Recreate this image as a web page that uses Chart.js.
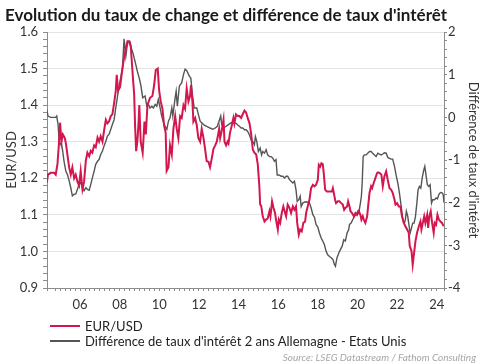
<!DOCTYPE html>
<html>
<head>
<meta charset="utf-8">
<script src="https://cdn.jsdelivr.net/npm/chart.js"></script>
<style>
  body { margin: 0; background: #fff; }
  #wrap { position: relative; width: 485px; height: 364px; font-family: Lato, sans-serif; }
  #title { position: absolute; left: 5px; top: 5px; line-height: 20px; font-size: 17px; font-weight: bold; color: #1a1a1a; white-space: nowrap; }
  .leg { position: absolute; left: 50px; height: 16px; line-height: 16px; font-size: 13px; color: #222; display: flex; align-items: center; white-space: nowrap; }
  .leg .sw { display: inline-block; width: 30px; height: 2px; margin-right: 5px; }
  #source { position: absolute; right: 9px; top: 351px; font-size: 10px; font-style: italic; color: #a6a6a6; white-space: nowrap; }
</style>
</head>
<body>
<div id="wrap">
  <canvas id="chart" width="485" height="364"></canvas>
  <div id="title">Evolution du taux de change et différence de taux d'intérêt</div>
  <div class="leg" style="top:318px"><span class="sw" style="background:#d4164f"></span>EUR/USD</div>
  <div class="leg" style="top:333px"><span class="sw" style="background:#555"></span>Différence de taux d'intérêt 2 ans Allemagne - Etats Unis</div>
  <div id="source">Source: LSEG Datastream / Fathom Consulting</div>
</div>
<script>
// EUR/USD (left axis)
const eurYears = [
  2004.32, 2004.38, 2004.52, 2004.69, 2004.77, 2004.86, 2004.94, 2004.99, 2005.06, 2005.13,
  2005.23, 2005.29, 2005.36, 2005.45, 2005.53, 2005.61, 2005.70, 2005.78, 2005.87, 2005.95,
  2006.03, 2006.12, 2006.20, 2006.29, 2006.37, 2006.46, 2006.54, 2006.62, 2006.71, 2006.79,
  2006.88, 2006.96, 2007.04, 2007.13, 2007.21, 2007.30, 2007.38, 2007.46, 2007.55, 2007.63,
  2007.72, 2007.80, 2007.85, 2007.92, 2008.02, 2008.09, 2008.19, 2008.31, 2008.39, 2008.47,
  2008.56, 2008.61, 2008.68, 2008.73, 2008.78, 2008.83, 2008.89, 2008.95, 2008.99, 2009.06,
  2009.16, 2009.25, 2009.32, 2009.40, 2009.53, 2009.65, 2009.74, 2009.82, 2009.92, 2009.99,
  2010.07, 2010.16, 2010.24, 2010.32, 2010.37, 2010.46, 2010.54, 2010.63, 2010.71, 2010.80,
  2010.88, 2010.96, 2011.05, 2011.13, 2011.22, 2011.30, 2011.38, 2011.47, 2011.55, 2011.60,
  2011.67, 2011.72, 2011.81, 2011.89, 2011.97, 2012.06, 2012.14, 2012.23, 2012.31, 2012.39,
  2012.48, 2012.56, 2012.65, 2012.73, 2012.82, 2012.90, 2013.02, 2013.07, 2013.15, 2013.24,
  2013.29, 2013.37, 2013.44, 2013.49, 2013.57, 2013.66, 2013.74, 2013.79, 2013.87, 2013.96,
  2014.04, 2014.13, 2014.21, 2014.30, 2014.38, 2014.46, 2014.55, 2014.63, 2014.72, 2014.80,
  2014.89, 2014.97, 2015.05, 2015.09, 2015.14, 2015.22, 2015.31, 2015.39, 2015.47, 2015.56,
  2015.61, 2015.69, 2015.76, 2015.84, 2015.89, 2015.98, 2016.03, 2016.10, 2016.18, 2016.26,
  2016.35, 2016.40, 2016.48, 2016.57, 2016.65, 2016.74, 2016.82, 2016.90, 2016.96, 2017.04,
  2017.11, 2017.19, 2017.27, 2017.36, 2017.41, 2017.49, 2017.58, 2017.66, 2017.75, 2017.83,
  2017.91, 2018.00, 2018.05, 2018.12, 2018.18, 2018.25, 2018.30, 2018.37, 2018.45, 2018.55,
  2018.62, 2018.71, 2018.76, 2018.84, 2018.89, 2018.92, 2019.01, 2019.09, 2019.18, 2019.26,
  2019.33, 2019.39, 2019.48, 2019.53, 2019.60, 2019.65, 2019.73, 2019.82, 2019.90, 2019.98,
  2020.07, 2020.15, 2020.20, 2020.27, 2020.32, 2020.40, 2020.49, 2020.54, 2020.61, 2020.69,
  2020.74, 2020.82, 2020.91, 2020.99, 2021.04, 2021.13, 2021.21, 2021.28, 2021.36, 2021.45,
  2021.53, 2021.62, 2021.70, 2021.78, 2021.87, 2021.92, 2022.00, 2022.09, 2022.17, 2022.25,
  2022.34, 2022.42, 2022.51, 2022.59, 2022.64, 2022.73, 2022.79, 2022.86, 2022.93, 2023.01,
  2023.10, 2023.18, 2023.23, 2023.30, 2023.37, 2023.43, 2023.52, 2023.57, 2023.63, 2023.70,
  2023.77, 2023.85, 2023.90, 2023.97, 2024.04, 2024.11, 2024.19, 2024.27, 2024.36
];
const eurValues = [
  1.188, 1.210, 1.215, 1.215, 1.210, 1.240, 1.300, 1.352, 1.300, 1.320,
  1.310, 1.293, 1.265, 1.229, 1.210, 1.230, 1.200, 1.210, 1.190, 1.180,
  1.220, 1.170, 1.190, 1.248, 1.270, 1.260, 1.275, 1.270, 1.290, 1.285,
  1.311, 1.300, 1.315, 1.300, 1.330, 1.360, 1.350, 1.355, 1.370, 1.375,
  1.406, 1.438, 1.483, 1.440, 1.450, 1.480, 1.520, 1.556, 1.575, 1.575,
  1.560, 1.520, 1.465, 1.430, 1.338, 1.274, 1.300, 1.350, 1.400, 1.300,
  1.270, 1.355, 1.320, 1.400, 1.420, 1.425, 1.455, 1.496, 1.500, 1.440,
  1.410, 1.390, 1.345, 1.325, 1.220, 1.230, 1.290, 1.265, 1.335, 1.370,
  1.335, 1.310, 1.370, 1.365, 1.400, 1.390, 1.445, 1.410, 1.425, 1.455,
  1.410, 1.355, 1.365, 1.345, 1.310, 1.300, 1.335, 1.310, 1.280, 1.247,
  1.245, 1.230, 1.255, 1.280, 1.290, 1.300, 1.335, 1.310, 1.330, 1.360,
  1.300, 1.290, 1.300, 1.295, 1.325, 1.345, 1.365, 1.350, 1.375, 1.370,
  1.370, 1.365, 1.375, 1.385, 1.380, 1.365, 1.351, 1.324, 1.278, 1.270,
  1.265, 1.238, 1.178, 1.128, 1.125, 1.096, 1.082, 1.087, 1.090, 1.110,
  1.096, 1.137, 1.120, 1.105, 1.087, 1.060, 1.087, 1.078, 1.105, 1.123,
  1.105, 1.096, 1.128, 1.119, 1.105, 1.123, 1.114, 1.123, 1.078, 1.046,
  1.060, 1.055, 1.078, 1.082, 1.105, 1.123, 1.142, 1.173, 1.182, 1.178,
  1.182, 1.196, 1.237, 1.232, 1.241, 1.239, 1.214, 1.169, 1.164, 1.164,
  1.164, 1.164, 1.173, 1.151, 1.137, 1.132, 1.137, 1.137, 1.132, 1.128,
  1.114, 1.119, 1.123, 1.137, 1.123, 1.110, 1.105, 1.096, 1.105, 1.100,
  1.110, 1.100, 1.087, 1.096, 1.087, 1.078, 1.096, 1.123, 1.160, 1.178,
  1.173, 1.187, 1.201, 1.214, 1.216, 1.214, 1.210, 1.178, 1.205, 1.219,
  1.196, 1.173, 1.169, 1.160, 1.142, 1.128, 1.132, 1.123, 1.123, 1.096,
  1.078, 1.069, 1.060, 1.051, 1.015, 1.001, 0.964, 0.996, 1.028, 1.051,
  1.069, 1.082, 1.060, 1.078, 1.096, 1.078, 1.100, 1.064, 1.096, 1.110,
  1.078, 1.051, 1.078, 1.073, 1.100, 1.087, 1.082, 1.078, 1.069
];

// 2-year rate spread Germany - US (right axis)
const spreadYears = [
  2004.32, 2004.38, 2004.52, 2004.77, 2004.82, 2004.89, 2004.94, 2004.99, 2005.06, 2005.11,
  2005.19, 2005.28, 2005.36, 2005.45, 2005.53, 2005.61, 2005.70, 2005.78, 2005.87, 2005.95,
  2006.03, 2006.12, 2006.20, 2006.29, 2006.37, 2006.46, 2006.54, 2006.62, 2006.71, 2006.79,
  2006.88, 2006.96, 2007.04, 2007.13, 2007.21, 2007.30, 2007.38, 2007.46, 2007.55, 2007.63,
  2007.72, 2007.80, 2007.88, 2007.97, 2008.05, 2008.14, 2008.22, 2008.31, 2008.36, 2008.42,
  2008.52, 2008.59, 2008.69, 2008.81, 2008.89, 2008.98, 2009.06, 2009.16, 2009.28, 2009.37,
  2009.45, 2009.53, 2009.62, 2009.70, 2009.79, 2009.87, 2009.95, 2010.04, 2010.12, 2010.24,
  2010.38, 2010.46, 2010.54, 2010.63, 2010.68, 2010.71, 2010.80, 2010.85, 2010.91, 2011.01,
  2011.13, 2011.22, 2011.30, 2011.38, 2011.52, 2011.59, 2011.67, 2011.76, 2011.89, 2011.97,
  2012.06, 2012.14, 2012.23, 2012.39, 2012.56, 2012.70, 2012.82, 2012.93, 2013.10, 2013.15,
  2013.24, 2013.37, 2013.49, 2013.61, 2013.71, 2013.78, 2013.88, 2013.96, 2014.04, 2014.13,
  2014.21, 2014.30, 2014.38, 2014.46, 2014.55, 2014.63, 2014.72, 2014.80, 2014.85, 2014.92,
  2015.00, 2015.09, 2015.16, 2015.22, 2015.31, 2015.39, 2015.47, 2015.56, 2015.64, 2015.73,
  2015.81, 2015.89, 2015.95, 2016.03, 2016.15, 2016.23, 2016.32, 2016.40, 2016.48, 2016.57,
  2016.65, 2016.74, 2016.82, 2016.90, 2016.96, 2017.04, 2017.11, 2017.16, 2017.24, 2017.32,
  2017.41, 2017.49, 2017.58, 2017.66, 2017.75, 2017.83, 2017.91, 2018.00, 2018.08, 2018.17,
  2018.25, 2018.33, 2018.42, 2018.50, 2018.59, 2018.67, 2018.76, 2018.84, 2018.89, 2018.97,
  2019.06, 2019.14, 2019.23, 2019.31, 2019.39, 2019.48, 2019.56, 2019.60, 2019.68, 2019.76,
  2019.85, 2019.93, 2020.02, 2020.07, 2020.15, 2020.20, 2020.24, 2020.29, 2020.35, 2020.44,
  2020.52, 2020.61, 2020.69, 2020.77, 2020.86, 2020.94, 2021.03, 2021.11, 2021.20, 2021.28,
  2021.36, 2021.45, 2021.53, 2021.62, 2021.70, 2021.78, 2021.87, 2021.95, 2022.04, 2022.12,
  2022.20, 2022.29, 2022.37, 2022.42, 2022.47, 2022.54, 2022.61, 2022.66, 2022.73, 2022.79,
  2022.86, 2022.93, 2023.00, 2023.06, 2023.13, 2023.20, 2023.27, 2023.35, 2023.40, 2023.47,
  2023.53, 2023.60, 2023.67, 2023.74, 2023.80, 2023.89, 2023.97, 2024.04, 2024.11, 2024.19,
  2024.27, 2024.33, 2024.37
];
const spreadValues = [
  0.18, 0.03, 0.00, 0.00, 0.03, -0.17, -0.56, -0.64, -0.60, -0.75,
  -1.03, -1.26, -1.34, -1.49, -1.65, -1.84, -1.80, -1.80, -1.68, -1.57,
  -1.53, -1.65, -1.72, -1.65, -1.69, -1.71, -1.57, -1.42, -1.26, -1.10,
  -1.03, -0.99, -0.87, -0.79, -0.67, -0.56, -0.44, -0.40, -0.28, -0.17,
  -0.05, 0.22, 0.46, 0.73, 0.93, 1.16, 1.84, 1.43, 1.62, 1.78,
  1.78, 1.62, 1.47, 1.24, 1.08, 0.93, 0.77, 0.46, 0.50, 0.26,
  0.30, 0.22, 0.26, 0.22, 0.30, 0.26, 0.42, 0.22, 0.03, -0.17,
  -0.28, -0.09, -0.01, 0.22, 0.03, 0.14, 0.46, 0.61, 0.26, 0.73,
  0.81, 1.00, 1.13, 1.10, 0.96, 0.92, 0.53, 0.22, 0.22, 0.07,
  -0.09, -0.13, -0.17, -0.21, -0.25, -0.28, -0.25, -0.21, 0.03, -0.17,
  -0.25, -0.21, -0.17, -0.13, -0.11, -0.13, -0.14, -0.18, -0.21, -0.25,
  -0.25, -0.29, -0.29, -0.33, -0.41, -0.53, -0.57, -0.64, -0.45, -0.57,
  -0.80, -0.72, -0.88, -0.80, -0.84, -0.76, -0.88, -0.92, -0.92, -0.96,
  -1.03, -0.99, -1.35, -1.35, -1.38, -1.38, -1.42, -1.38, -1.38, -1.46,
  -1.50, -1.54, -1.50, -1.70, -1.97, -1.93, -1.85, -2.09, -2.01, -1.99,
  -1.98, -1.99, -2.01, -2.12, -2.28, -2.34, -2.51, -2.57, -2.71, -2.83,
  -2.90, -2.98, -3.14, -3.22, -3.26, -3.29, -3.33, -3.45, -3.49, -3.29,
  -3.18, -3.10, -3.02, -2.87, -2.90, -2.71, -2.63, -2.51, -2.48, -2.40,
  -2.32, -2.28, -2.20, -2.24, -2.01, -1.85, -1.54, -0.92, -0.88, -0.88,
  -0.84, -0.80, -0.80, -0.84, -0.88, -0.92, -0.84, -0.86, -0.88, -0.86,
  -0.83, -0.84, -0.94, -0.96, -0.98, -0.98, -1.15, -1.35, -1.54, -1.77,
  -2.05, -2.40, -2.48, -2.40, -2.20, -2.32, -2.55, -2.71, -2.59, -2.48,
  -2.48, -2.32, -2.01, -1.70, -1.62, -1.66, -1.42, -1.23, -1.15, -1.38,
  -1.58, -1.62, -1.58, -2.01, -1.93, -1.93, -1.89, -1.91, -1.81, -1.76,
  -1.77, -1.81, -2.00
];

const RED = '#d4164f';
const GREY = '#555555';
const AXIS = '#8c8c8c';
const TXT = '#333333';
const tickFont = { family: 'Lato', size: 13 };

const isMajor = (v, step) => Math.abs(v / step - Math.round(v / step)) < 1e-6;

const ctx = document.getElementById('chart').getContext('2d');
new Chart(ctx, {
  type: 'line',
  data: {
    datasets: [
      {
        label: 'EUR/USD',
        data: eurYears.map((x, i) => ({ x: x, y: eurValues[i] })),
        yAxisID: 'y',
        borderColor: RED,
        borderWidth: 2,
        pointRadius: 0,
        tension: 0,
      },
      {
        label: "Différence de taux d'intérêt 2 ans Allemagne - Etats Unis",
        data: spreadYears.map((x, i) => ({ x: x, y: spreadValues[i] })),
        yAxisID: 'y1',
        borderColor: GREY,
        borderWidth: 1.4,
        pointRadius: 0,
        tension: 0,
      },
    ],
  },
  options: {
    responsive: false,
    animation: false,
    devicePixelRatio: 1,
    layout: { padding: { left: 0, right: 0, top: 32, bottom: 50 } },
    plugins: {
      legend: { display: false },
      tooltip: { enabled: false },
    },
    scales: {
      x: {
        type: 'linear',
        min: 2004.33,
        max: 2024.37,
        afterFit: (s) => { s.height = 26; },
        border: { color: AXIS },
        grid: { drawOnChartArea: false, tickLength: 3, tickColor: AXIS },
        ticks: {
          stepSize: 0.25,
          maxTicksLimit: 1000,
          autoSkip: false,
          maxRotation: 0,
          padding: 6,
          color: TXT,
          font: tickFont,
          callback: (v) => {
            const y = Math.round(v);
            return isMajor(v, 1) && y % 2 === 0 ? String(y).slice(2) : '';
          },
        },
      },
      y: {
        position: 'left',
        min: 0.9,
        max: 1.6,
        afterFit: (s) => { s.width = 47; },
        border: { color: AXIS },
        grid: {
          color: (c) => (c.tick && isMajor(c.tick.value, 0.1) ? '#e3e3e3' : 'rgba(0,0,0,0)'),
          tickColor: AXIS,
          tickLength: 4,
        },
        ticks: {
          stepSize: 0.02,
          maxTicksLimit: 1000,
          autoSkip: false,
          padding: 5,
          color: TXT,
          font: tickFont,
          callback: (v) => (isMajor(v, 0.1) ? v.toFixed(1) : ''),
        },
        title: {
          display: true,
          text: 'EUR/USD',
          color: TXT,
          font: tickFont,
          padding: { top: 4, bottom: 0 },
        },
      },
      y1: {
        position: 'right',
        min: -4,
        max: 2,
        afterFit: (s) => { s.width = 41; },
        border: { color: AXIS },
        grid: { drawOnChartArea: false, tickColor: AXIS, tickLength: 3 },
        ticks: {
          stepSize: 0.2,
          maxTicksLimit: 1000,
          autoSkip: false,
          padding: 1,
          color: TXT,
          font: tickFont,
          callback: (v) => (isMajor(v, 1) ? String(Math.round(v)) : ''),
        },
        title: {
          display: true,
          text: "Différence de taux d'intérêt",
          color: TXT,
          font: tickFont,
          padding: { top: 4, bottom: 0 },
        },
      },
    },
  },
});
</script>
</body>
</html>
